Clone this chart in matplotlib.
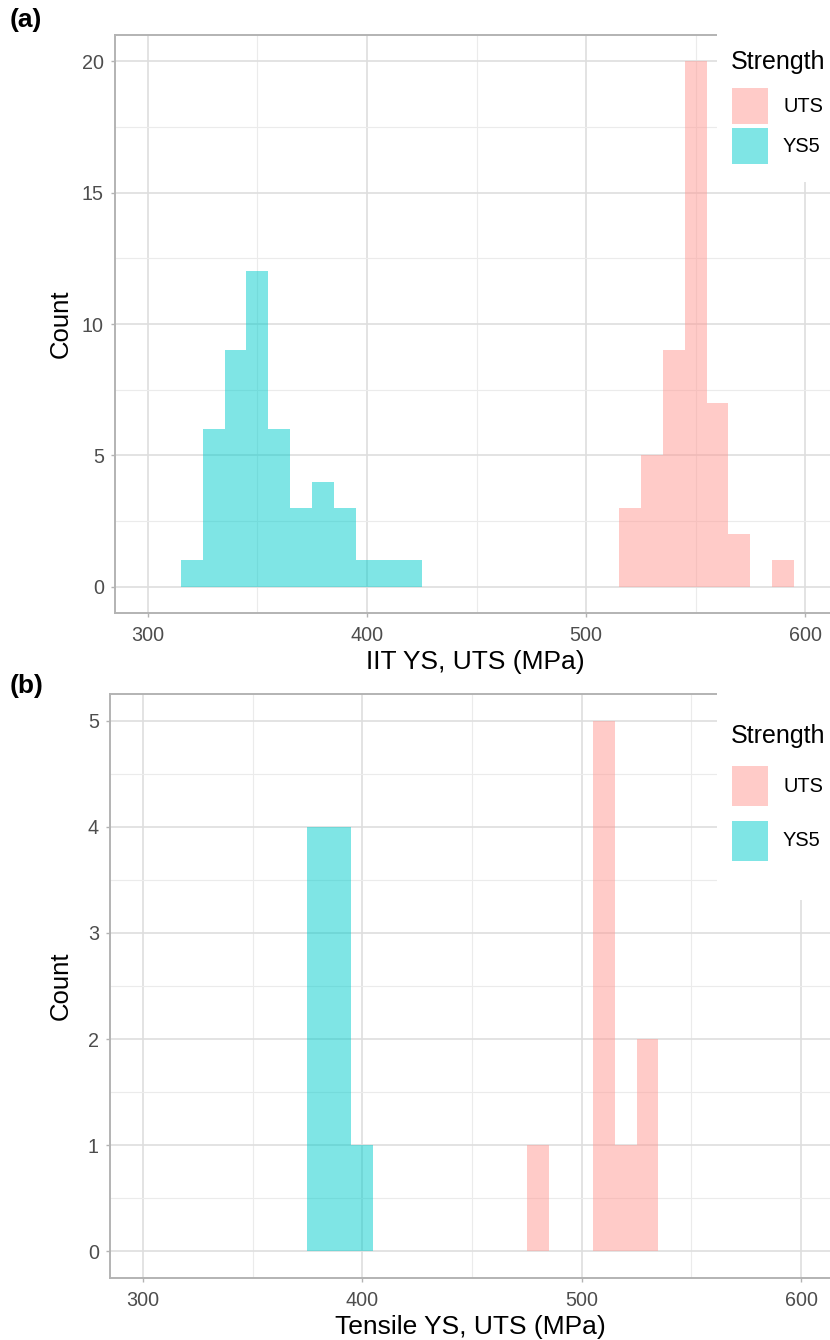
import matplotlib.pyplot as plt
from matplotlib.patches import Rectangle
from matplotlib.ticker import MultipleLocator

plt.rcParams['font.family'] = ['Liberation Sans', 'DejaVu Sans']

# histogram counts, binwidth 10 MPa, bins given by their centres
iit_ys5_bins = [320, 330, 340, 350, 360, 370, 380, 390, 400, 410, 420]
iit_ys5_counts = [1, 6, 9, 12, 6, 3, 4, 3, 1, 1, 1]
iit_uts_bins = [520, 530, 540, 550, 560, 570, 580, 590]
iit_uts_counts = [3, 5, 9, 20, 7, 2, 0, 1]

ten_ys5_bins = [380, 390, 400]
ten_ys5_counts = [4, 4, 1]
ten_uts_bins = [480, 490, 500, 510, 520, 530]
ten_uts_counts = [1, 0, 0, 5, 1, 2]

groups = ['UTS', 'YS5']
uts_col = '#FF9893'
ys5_col = '#00CDCD'
fill_alpha = 0.5

W, H = 830, 1340
fig = plt.figure(figsize=(W / 100, H / 100), dpi=100)


def add_panel(left, right, top, bottom):
    return fig.add_axes([left / W, 1 - bottom / H, (right - left) / W, (bottom - top) / H])


def style(ax, ymax, ymajor, yminor):
    ax.set_xlim(285, 615)
    ax.set_ylim(-0.05 * ymax, 1.05 * ymax)
    ax.xaxis.set_major_locator(MultipleLocator(100))
    ax.xaxis.set_minor_locator(MultipleLocator(50))
    ax.yaxis.set_major_locator(MultipleLocator(ymajor))
    ax.yaxis.set_minor_locator(MultipleLocator(yminor))
    ax.grid(which='major', color='#DEDEDE', lw=1.2)
    ax.grid(which='minor', color='#EBEBEB', lw=0.8)
    ax.set_axisbelow(True)
    for s in ax.spines.values():
        s.set_color('#B3B3B3')
        s.set_linewidth(1.4)
    ax.tick_params(which='major', length=3, width=1, color='#B3B3B3',
                   labelsize=14.2, labelcolor='#4D4D4D')
    ax.tick_params(which='minor', length=0)
    ax.tick_params(axis='x', pad=6.5)
    ax.tick_params(axis='y', pad=5)


def legend(top, bottom, title_y, rows):
    # white legend block laid over the right end of the panel
    fig.add_artist(Rectangle((717 / W, 1 - bottom / H), (W - 717) / W, (bottom - top) / H,
                             transform=fig.transFigure, facecolor='white',
                             edgecolor='none', zorder=10))
    fig.text(731 / W, 1 - title_y / H, 'Strength', fontsize=18, va='center',
             ha='left', zorder=11)
    for (k_top, k_bot), name, col in zip(rows, groups, [uts_col, ys5_col]):
        fig.add_artist(Rectangle((732 / W, 1 - k_bot / H), 36 / W, (k_bot - k_top) / H,
                                 transform=fig.transFigure, facecolor=col,
                                 alpha=fill_alpha, edgecolor='none', zorder=11))
        fig.text(783 / W, 1 - (k_top + k_bot) / 2 / H, name, fontsize=14.4,
                 va='center', ha='left', zorder=11)


# (a) instrumented indentation
ax1 = add_panel(115, 838, 35, 613)
ax1.bar(iit_uts_bins, iit_uts_counts, width=10, color=uts_col, alpha=fill_alpha, linewidth=0)
ax1.bar(iit_ys5_bins, iit_ys5_counts, width=10, color=ys5_col, alpha=fill_alpha, linewidth=0)
style(ax1, 20, 5, 2.5)

# (b) tensile test
ax2 = add_panel(110, 834, 694, 1278)
ax2.bar(ten_uts_bins, ten_uts_counts, width=10, color=uts_col, alpha=fill_alpha, linewidth=0)
ax2.bar(ten_ys5_bins, ten_ys5_counts, width=10, color=ys5_col, alpha=fill_alpha, linewidth=0)
style(ax2, 5, 1, 0.5)

fig.text(10 / W, 1 - 20 / H, '(a)', fontsize=19, fontweight='bold', va='center')
fig.text(10 / W, 1 - 686 / H, '(b)', fontsize=19, fontweight='bold', va='center')

fig.text(475 / W, 1 - 669 / H, 'IIT YS, UTS (MPa)', fontsize=19, ha='center', va='baseline')
fig.text(470 / W, 1 - 1334 / H, 'Tensile YS, UTS (MPa)', fontsize=19, ha='center', va='baseline')
fig.text(61 / W, 1 - 324 / H, 'Count', fontsize=18.5, rotation=90, ha='center', va='center')
fig.text(61 / W, 1 - 986 / H, 'Count', fontsize=18.5, rotation=90, ha='center', va='center')

legend(28, 182, 62, [(88, 124), (128, 164)])
legend(688, 900, 736, [(766, 806), (821, 861)])

fig.savefig('out.png', dpi=100)
